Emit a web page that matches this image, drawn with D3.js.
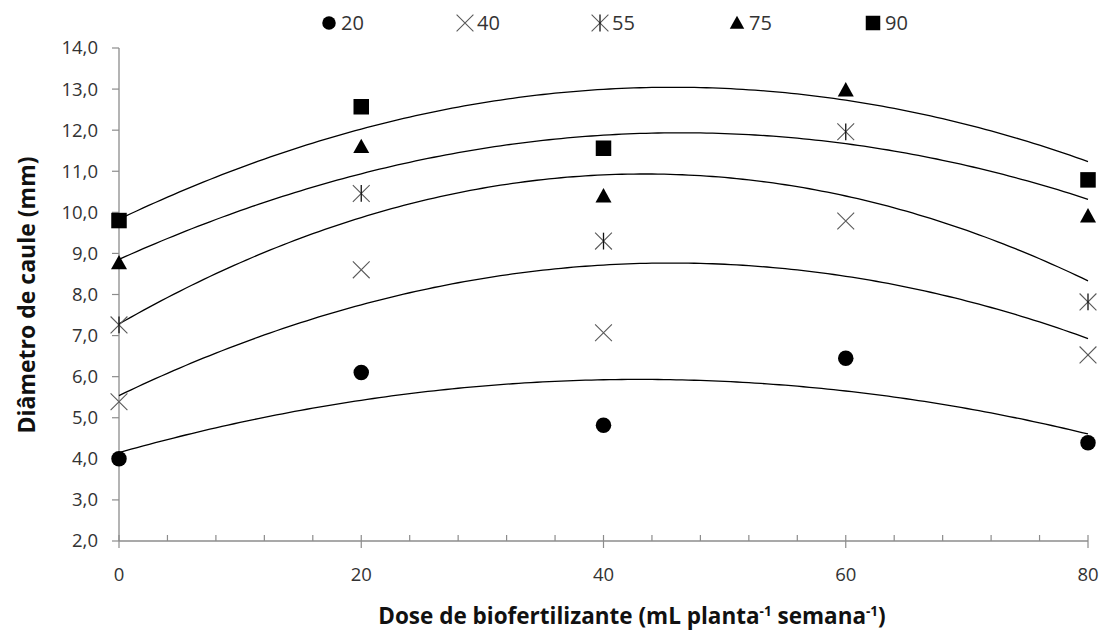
<!DOCTYPE html>
<html>
<head>
<meta charset="utf-8">
<script src="https://cdn.jsdelivr.net/npm/d3@7"></script>
<style>
  html, body { margin: 0; padding: 0; background: #fff; }
  svg { display: block; font-family: "Open Sans", "Liberation Sans", sans-serif; }
</style>
</head>
<body>
<svg id="chart" width="1110" height="630"></svg>
<script>
// Doses of biofertilizer (mL per plant per week)
const doses = [0, 20, 40, 60, 80];

// Stem diameter (mm) for each evaluation age (days)
const seriesNames = ["20", "40", "55", "75", "90"];
const diam20 = [4.00, 6.10, 4.82, 6.45, 4.39];
const diam40 = [5.39, 8.60, 7.07, 9.79, 6.53];
const diam55 = [7.26, 10.46, 9.30, 11.96, 7.82];
const diam75 = [8.77, 11.60, 10.40, 12.98, 9.91];
const diam90 = [9.80, 12.57, 11.56, 14.10, 10.79];

// Axis ticks
const xTicks = [0, 20, 40, 60, 80];
const xMinorTicks = d3.range(0, 81, 4);
const yTicks = [2, 3, 4, 5, 6, 7, 8, 9, 10, 11, 12, 13, 14];

const seriesValues = [diam20, diam40, diam55, diam75, diam90];
const markers = ["circle", "cross", "asterisk", "triangle", "square"];

const svg = d3.select("#chart");
const x = d3.scaleLinear().domain([0, 80]).range([119, 1088]);
const y = d3.scaleLinear().domain([2, 14]).range([541, 48]);

const axisColor = "#8c8c8c";
const textColor = "#333";

// Least-squares quadratic fit  y = a + b·x + c·x²
function quadFit(xs, ys) {
  let S = [0, 0, 0, 0, 0], T = [0, 0, 0];
  xs.forEach((xi, i) => {
    const yi = ys[i];
    for (let k = 0; k < 5; k++) S[k] += Math.pow(xi, k);
    for (let k = 0; k < 3; k++) T[k] += yi * Math.pow(xi, k);
  });
  const M = [[S[0], S[1], S[2], T[0]], [S[1], S[2], S[3], T[1]], [S[2], S[3], S[4], T[2]]];
  for (let i = 0; i < 3; i++) {
    for (let j = i + 1; j < 3; j++) {
      const f = M[j][i] / M[i][i];
      for (let k = i; k < 4; k++) M[j][k] -= f * M[i][k];
    }
  }
  const sol = [0, 0, 0];
  for (let i = 2; i >= 0; i--) {
    let s = M[i][3];
    for (let k = i + 1; k < 3; k++) s -= M[i][k] * sol[k];
    sol[i] = s / M[i][i];
  }
  return v => sol[0] + sol[1] * v + sol[2] * v * v;
}

// ---- Axes ----
const gx = svg.append("g");
gx.append("line").attr("x1", x(0)).attr("x2", x(80)).attr("y1", y(2)).attr("y2", y(2))
  .attr("stroke", axisColor).attr("stroke-width", 1.3);
gx.selectAll("line.minor").data(xMinorTicks.filter(t => t % 20 !== 0)).join("line")
  .attr("class", "minor")
  .attr("x1", d => x(d)).attr("x2", d => x(d))
  .attr("y1", y(2) - 6).attr("y2", y(2))
  .attr("stroke", axisColor).attr("stroke-width", 1.2);
gx.selectAll("line.major").data(xTicks).join("line")
  .attr("class", "major")
  .attr("x1", d => x(d)).attr("x2", d => x(d))
  .attr("y1", y(2) - 6).attr("y2", y(2) + 7)
  .attr("stroke", axisColor).attr("stroke-width", 1.2);
gx.selectAll("text").data(xTicks).join("text")
  .attr("x", d => x(d)).attr("y", 581)
  .attr("text-anchor", "middle")
  .attr("font-size", 18.5).attr("fill", textColor)
  .text(d => d);

const gy = svg.append("g");
gy.append("line").attr("x1", x(0)).attr("x2", x(0)).attr("y1", y(2)).attr("y2", y(14))
  .attr("stroke", axisColor).attr("stroke-width", 1.3);
gy.selectAll("line.major").data(yTicks).join("line")
  .attr("x1", x(0) - 7).attr("x2", x(0))
  .attr("y1", d => y(d)).attr("y2", d => y(d))
  .attr("stroke", axisColor).attr("stroke-width", 1.2);
const fmt = v => v.toFixed(1).replace(".", ",");
gy.selectAll("text").data(yTicks).join("text")
  .attr("x", 98).attr("y", d => y(d)).attr("dy", "0.35em")
  .attr("text-anchor", "end")
  .attr("font-size", 18.5).attr("fill", textColor)
  .text(d => fmt(d));

// ---- Axis titles ----
const xt = svg.append("text")
  .attr("x", 632).attr("y", 624)
  .attr("text-anchor", "middle")
  .attr("font-size", 22.5).attr("font-weight", "bold").attr("fill", "#111");
xt.append("tspan").text("Dose de biofertilizante (mL planta");
xt.append("tspan").attr("dy", -8).attr("font-size", 13.5).text("-1");
xt.append("tspan").attr("dy", 8).text(" semana");
xt.append("tspan").attr("dy", -8).attr("font-size", 13.5).text("-1");
xt.append("tspan").attr("dy", 8).text(")");

svg.append("text")
  .attr("transform", "translate(35,295) rotate(-90)")
  .attr("text-anchor", "middle")
  .attr("font-size", 23).attr("font-weight", "bold").attr("fill", "#111")
  .text("Diâmetro de caule (mm)");

// ---- Marker drawing ----
function drawMarker(g, type, cx, cy, s) {
  const h = s / 2;
  if (type === "circle") {
    g.append("circle").attr("cx", cx).attr("cy", cy).attr("r", h).attr("fill", "#000");
  } else if (type === "square") {
    g.append("rect").attr("x", cx - h).attr("y", cy - h).attr("width", s).attr("height", s).attr("fill", "#000");
  } else if (type === "triangle") {
    const th = s * 0.9;
    g.append("path")
      .attr("d", `M${cx},${cy - th * 0.55}L${cx + h},${cy + th * 0.45}L${cx - h},${cy + th * 0.45}Z`)
      .attr("fill", "#000");
  } else if (type === "cross" || type === "asterisk") {
    const c = h * 1.05;
    g.append("path")
      .attr("d", `M${cx - c},${cy - c}L${cx + c},${cy + c}M${cx - c},${cy + c}L${cx + c},${cy - c}`)
      .attr("stroke", "#5a5a5a").attr("stroke-width", 1.1).attr("fill", "none");
    if (type === "asterisk") {
      g.append("path")
        .attr("d", `M${cx},${cy - c}L${cx},${cy + c}`)
        .attr("stroke", "#111").attr("stroke-width", 1.3);
    }
  }
}

// ---- Trend curves ----
const curveX = d3.range(0, 80.001, 0.5);
const line = d3.line().x(d => x(d[0])).y(d => y(d[1]));
const gLines = svg.append("g");
seriesValues.forEach(vals => {
  const f = quadFit(doses, vals);
  gLines.append("path")
    .attr("d", line(curveX.map(v => [v, f(v)])))
    .attr("fill", "none").attr("stroke", "#000").attr("stroke-width", 1.3);
});

// ---- Observed points (only those inside the value axis range are plotted) ----
const gPts = svg.append("g");
const markerSize = { circle: 15.5, square: 15.5, triangle: 16, cross: 16, asterisk: 16 };
seriesValues.forEach((vals, si) => {
  vals.forEach((v, i) => {
    if (v < y.domain()[0] || v > y.domain()[1]) return;
    drawMarker(gPts, markers[si], x(doses[i]), y(v), markerSize[markers[si]]);
  });
});

// ---- Legend ----
const legendX = [329, 465, 600, 737, 873];
const gLeg = svg.append("g");
seriesNames.forEach((name, i) => {
  const type = markers[i];
  const s = type === "circle" ? 13.5 : (type === "cross" || type === "asterisk") ? 16 : 14.5;
  drawMarker(gLeg, type, legendX[i], 23, s);
  gLeg.append("text")
    .attr("x", legendX[i] + 12).attr("y", 23).attr("dy", "0.36em")
    .attr("font-size", 20).attr("fill", textColor)
    .text(name);
});
</script>
</body>
</html>
